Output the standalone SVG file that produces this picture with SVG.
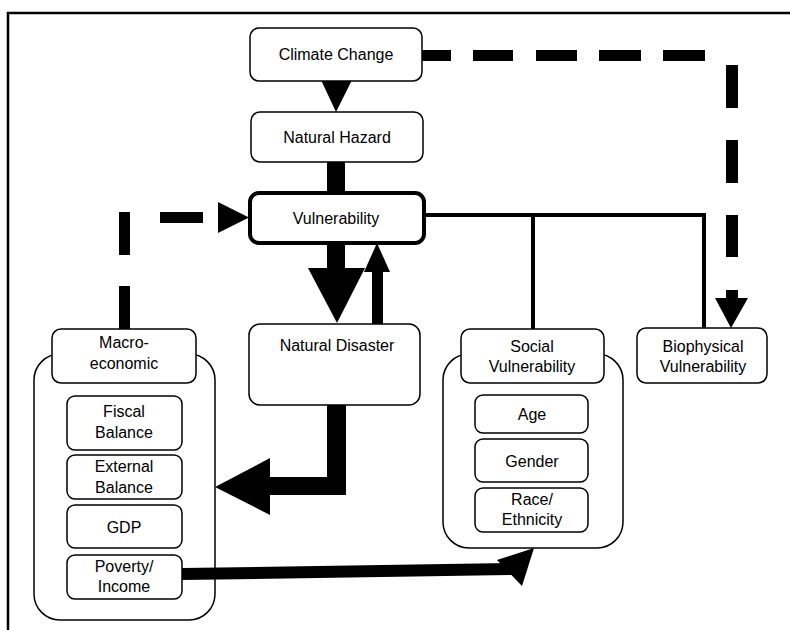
<svg xmlns="http://www.w3.org/2000/svg" width="790" height="630" viewBox="0 0 790 630">
<style>
.box{fill:#fff;stroke:#000;stroke-width:1.5}
.thick{fill:#fff;stroke:#000;stroke-width:4}
.t{font-family:"Liberation Sans",Arial,sans-serif;font-size:16px;fill:#000;text-anchor:middle}
.ln{stroke:#000;stroke-width:4;fill:none}
.blk{fill:#000}
</style>
<rect width="790" height="630" fill="#fff"/>
<path d="M8 630 V13 H790" fill="none" stroke="#000" stroke-width="2.5"/>

<g id="macro-container">
<rect class="box" x="34" y="354" width="181" height="266" rx="26"/>
</g>
<g id="social-container">
<rect class="box" x="443" y="354" width="180" height="194" rx="26"/>
</g>

<g id="connectors">
<!-- climate -> hazard -->
<polygon class="blk" points="321,80 352,80 336,112"/>
<!-- hazard -> vulnerability -->
<rect class="blk" x="327" y="161" width="18" height="32"/>
<!-- vulnerability -> natural disaster -->
<rect class="blk" x="327" y="242" width="18" height="28"/>
<polygon class="blk" points="308,268 365,268 337,323"/>
<!-- natural disaster -> vulnerability -->
<rect class="blk" x="372" y="268" width="11" height="56"/>
<polygon class="blk" points="364,272 390,272 377,243"/>
<!-- natural disaster -> macro -->
<path class="blk" d="M327 405 H346 V495 H270 V515 L215 487 L270 458 V477 H327 Z"/>
<!-- poverty -> social -->
<path d="M182 574 L512 569" stroke="#000" stroke-width="12" fill="none"/>
<polygon class="blk" points="497,560 534,548 522,586"/>
<!-- vulnerability -> social / biophysical -->
<path class="ln" d="M424 215 H704 V329"/>
<path class="ln" d="M533 215 V330"/>
<!-- climate -> biophysical dashed -->
<g class="blk">
<rect x="422" y="50" width="29" height="11"/>
<rect x="473" y="50" width="40" height="11"/>
<rect x="536" y="50" width="41" height="11"/>
<rect x="599" y="50" width="42" height="11"/>
<rect x="663" y="50" width="42" height="11"/>
<rect x="726" y="65" width="12" height="43"/>
<rect x="726" y="140" width="12" height="43"/>
<rect x="726" y="215" width="12" height="42"/>
<rect x="726" y="290" width="12" height="12"/>
<polygon points="715,298 748,298 731,328"/>
</g>
<!-- macro -> vulnerability dashed -->
<g class="blk">
<rect x="119" y="286" width="11" height="43"/>
<rect x="119" y="212" width="11" height="43"/>
<rect x="160" y="212" width="43" height="11"/>
<polygon points="218,202 249,217.5 218,233"/>
</g>
</g>

<g id="climate-change">
<rect class="box" x="250" y="28" width="172" height="53" rx="9"/>
<text class="t" x="336" y="60">Climate Change</text>
</g>
<g id="natural-hazard">
<rect class="box" x="251" y="112" width="172" height="50" rx="9"/>
<text class="t" x="337" y="143">Natural Hazard</text>
</g>
<g id="vulnerability">
<rect class="thick" x="250" y="193" width="174" height="50" rx="9"/>
<text class="t" x="336" y="224">Vulnerability</text>
</g>
<g id="natural-disaster">
<rect class="box" x="249" y="324" width="171" height="81" rx="11"/>
<text class="t" x="337" y="351">Natural Disaster</text>
</g>
<g id="macro-economic">
<rect class="box" x="52" y="329" width="144" height="54" rx="9"/>
<text class="t" x="124" y="348">Macro-</text>
<text class="t" x="124" y="369">economic</text>
</g>
<g id="fiscal-balance">
<rect class="box" x="67" y="396" width="115" height="54" rx="8"/>
<text class="t" x="124" y="417">Fiscal</text>
<text class="t" x="124" y="438">Balance</text>
</g>
<g id="external-balance">
<rect class="box" x="67" y="455" width="115" height="44" rx="8"/>
<text class="t" x="124" y="472">External</text>
<text class="t" x="124" y="493">Balance</text>
</g>
<g id="gdp">
<rect class="box" x="67" y="505" width="115" height="43" rx="8"/>
<text class="t" x="124" y="533">GDP</text>
</g>
<g id="poverty-income">
<rect class="box" x="67" y="555" width="115" height="44" rx="8"/>
<text class="t" x="124" y="572">Poverty/</text>
<text class="t" x="124" y="592">Income</text>
</g>
<g id="social-vulnerability">
<rect class="box" x="461" y="329" width="143" height="54" rx="9"/>
<text class="t" x="532" y="352">Social</text>
<text class="t" x="532" y="372">Vulnerability</text>
</g>
<g id="age">
<rect class="box" x="475" y="395" width="113" height="38" rx="8"/>
<text class="t" x="532" y="420">Age</text>
</g>
<g id="gender">
<rect class="box" x="475" y="439" width="113" height="43" rx="8"/>
<text class="t" x="532" y="467">Gender</text>
</g>
<g id="race-ethnicity">
<rect class="box" x="475" y="488" width="113" height="44" rx="8"/>
<text class="t" x="532" y="505">Race/</text>
<text class="t" x="532" y="525">Ethnicity</text>
</g>
<g id="biophysical-vulnerability">
<rect class="box" x="637" y="328" width="130" height="55" rx="9"/>
<text class="t" x="703" y="352">Biophysical</text>
<text class="t" x="703" y="372">Vulnerability</text>
</g>
</svg>
